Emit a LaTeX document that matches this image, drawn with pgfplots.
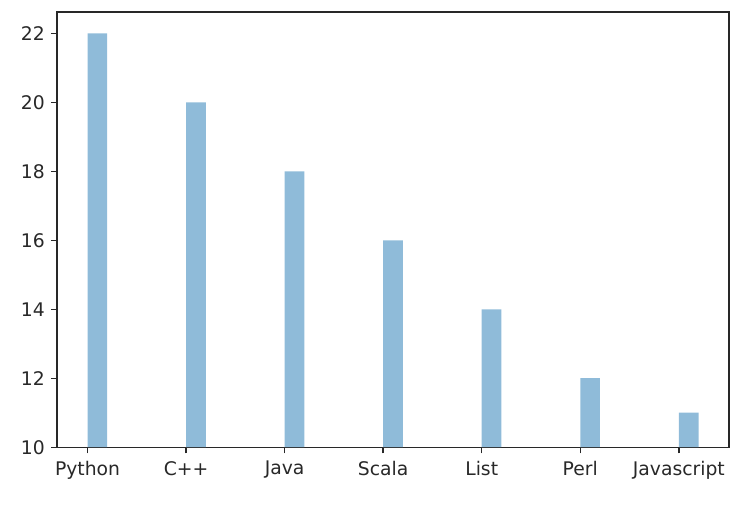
\documentclass[border=0pt]{standalone}
\usepackage{pgfplots}
\pgfplotsset{compat=1.18}
\usepackage{fontspec}
\setmainfont{DejaVu Sans}
\definecolor{barblue}{RGB}{143,187,217}
\definecolor{axgray}{RGB}{40,40,40}
\begin{document}
\begin{tikzpicture}
\begin{axis}[
  scale only axis,
  width=387pt, height=250.6pt,
  xmin=-0.31, xmax=6.51,
  ymin=10, ymax=22.62,
  xtick={0,1,2,3,4,5,6},
  xticklabels={Python,C++,Java,Scala,List,Perl,Javascript},
  ytick={10,12,14,16,18,20,22},
  tick align=outside,
  tick pos=left,
  major tick length=3.5pt,
  tick style={axgray, line width=0.8pt},
  axis line style={axgray, line width=0.8pt},
  ticklabel style={font=\fontsize{10.8}{12}\selectfont, text=axgray},
  xticklabel style={yshift=-1pt},
  /pgf/number format/assume math mode=true,
  ybar,
  bar width=0.2,
]
\addplot[fill=barblue, draw=none, bar shift=0.1] coordinates {
(0,22) (1,20) (2,18) (3,16) (4,14) (5,12) (6,11)
};
\end{axis}
\path ([shift={(-32.8pt,-32.8pt)}]current axis.south west) rectangle ([shift={(13.2pt,6.9pt)}]current axis.north east);
\end{tikzpicture}
\end{document}
